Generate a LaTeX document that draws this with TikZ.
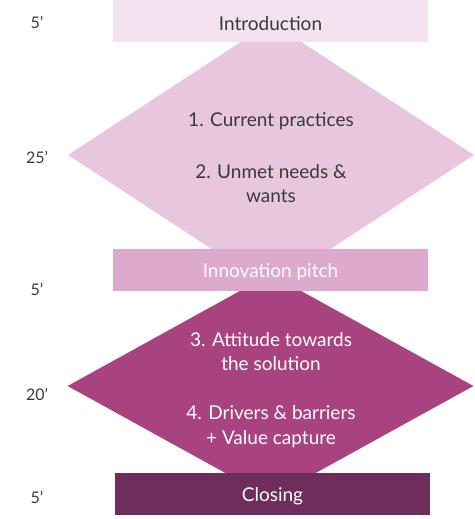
\documentclass[tikz,border=0pt]{standalone}
\usepackage{fontspec}
\setmainfont{Lato}
\usetikzlibrary{shapes.geometric}
\definecolor{introC}{HTML}{F3E2EF}
\definecolor{diaoneC}{HTML}{E8C6DE}
\definecolor{pitchC}{HTML}{DDA9CC}
\definecolor{diatwoC}{HTML}{A8437F}
\definecolor{closeC}{HTML}{6E2D5A}
\definecolor{txtC}{HTML}{3A3A3A}
\begin{document}
\begin{tikzpicture}[x=1pt,y=1pt,
  bar/.style={rectangle, minimum width=315pt, minimum height=42pt, inner sep=0pt},
  bartext/.style={font=\fontsize{19}{22}\selectfont, inner sep=0pt},
  rhomb/.style={diamond, minimum width=406pt, inner sep=0pt},
  body/.style={align=center, font=\fontsize{19}{24.5}\selectfont, inner sep=0pt},
  timelbl/.style={font=\fontsize{16}{18}\selectfont, text=txtC}]
\useasboundingbox (0,0) rectangle (474,-519);
\node[rhomb, fill=diaoneC, minimum height=266pt] (d1) at (271,-155) {};
\node[rhomb, fill=diatwoC, minimum height=224pt] (d2) at (270.5,-386) {};
\node[bar, fill=introC] (intro) at (270.5,-21) {};
\node[bar, fill=pitchC] (pitch) at (270.5,-270) {};
\node[bar, fill=closeC] (closing) at (272.5,-494) {};
\node[bartext, text=txtC] (introT) at ([yshift=-2.5pt]intro.center) {Introduction};
\node[bartext, text=white] (pitchT) at ([yshift=-2.5pt]pitch.center) {Innovation pitch};
\node[bartext, text=white] (closingT) at ([yshift=-2.5pt]closing.center) {Closing};
\node[body, text=txtC] (t1) at (271,-121.5) {1. Current practices};
\node[body, text=txtC] (t2) at (271,-183.5) {2. Unmet needs \&\\wants};
\node[body, text=white] (t3) at (271,-351.5) {3. Attitude towards\\the solution};
\node[body, text=white] (t4) at (271,-426.5) {4. Drivers \& barriers\\+ Value capture};
\node[timelbl] (m1) at (37,-22) {5’};
\node[timelbl] (m2) at (37,-157) {25’};
\node[timelbl] (m3) at (37,-289) {5’};
\node[timelbl] (m4) at (37,-394) {20’};
\node[timelbl] (m5) at (37,-497) {5’};
\end{tikzpicture}
\end{document}
